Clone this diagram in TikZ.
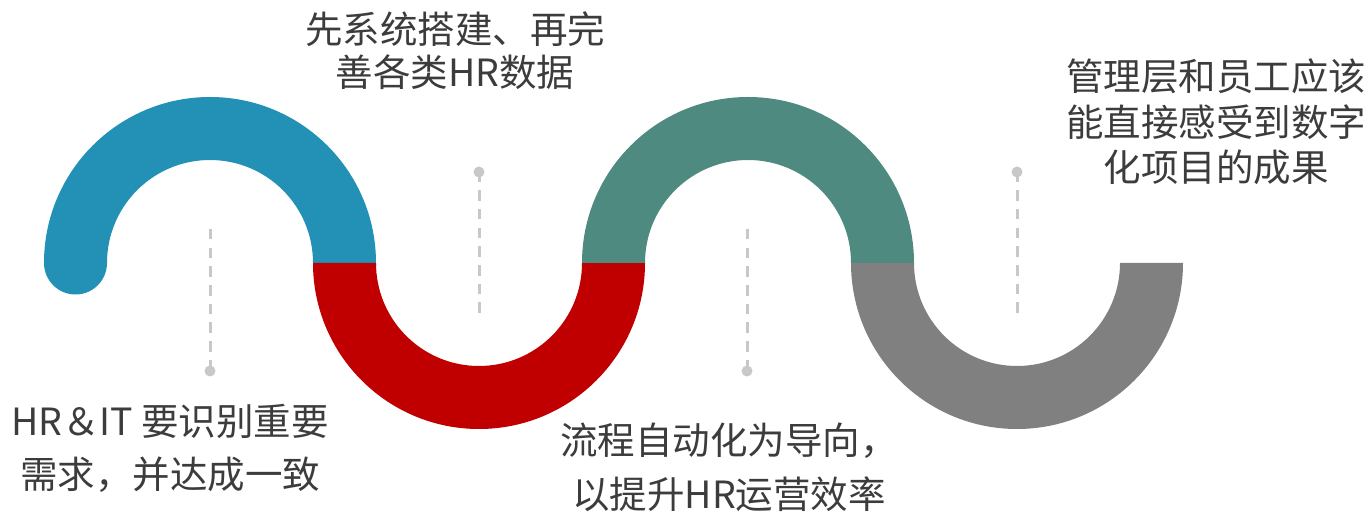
\documentclass[tikz,border=0pt]{standalone}
\usepackage{fontspec}
\newfontfamily\cjk{Noto Sans CJK SC}
\definecolor{cblue}{RGB}{35,145,181}
\definecolor{cred}{RGB}{192,0,0}
\definecolor{cteal}{RGB}{78,138,128}
\definecolor{cgray}{RGB}{128,128,128}
\definecolor{cdash}{RGB}{200,200,200}
\definecolor{ctext}{RGB}{60,60,60}
\begin{document}
\begin{tikzpicture}[x=1pt,y=1pt,
  guide/.style={draw=cdash, line width=3pt, dash pattern=on 10.5pt off 8.2pt},
  dotnode/.style={circle, fill=cdash, inner sep=0pt, minimum size=11pt},
  lbl/.style={text=ctext, align=center, inner sep=0pt}]
\useasboundingbox (0,0) rectangle (1370,513);
% wave segments
\fill[cblue] (44,250) arc[start angle=180,end angle=0,radius=166] -- (313,250) arc[start angle=0,end angle=180,radius=103] -- cycle;
\fill[cblue] (75.5,250) circle[radius=31.5];
\fill[cred] (313,250) arc[start angle=180,end angle=360,radius=166] -- (582,250) arc[start angle=0,end angle=-180,radius=103] -- cycle;
\fill[cteal] (582,250) arc[start angle=180,end angle=0,radius=166] -- (851,250) arc[start angle=0,end angle=180,radius=103] -- cycle;
\fill[cgray] (851,250) arc[start angle=180,end angle=360,radius=166] -- (1120,250) arc[start angle=0,end angle=-180,radius=103] -- cycle;
% guide lines
\node[dotnode] (d1) at (210,142) {};
\node[dotnode] (d2) at (479,341) {};
\node[dotnode] (d3) at (747,142) {};
\node[dotnode] (d4) at (1017,341) {};
\coordinate (g1) at (210,284);
\coordinate (g2) at (479,200);
\coordinate (g3) at (747,284);
\coordinate (g4) at (1017,200);
\draw[guide] (g1) -- (d1.center);
\draw[guide] (g2) -- (d2.center);
\draw[guide] (g3) -- (d3.center);
\draw[guide] (g4) -- (d4.center);
% labels
\node[lbl, font=\cjk\fontsize{37.5}{43}\selectfont] (t1) at (455,462.5) {先系统搭建、再完\\善各类HR数据};
\node[lbl, font=\cjk\fontsize{37.5}{45.5}\selectfont] (t2) at (1216,391) {管理层和员工应该\\能直接感受到数字\\化项目的成果};
\node[lbl, font=\cjk\fontsize{37.5}{53}\selectfont] (t3) at (170,64.5) {HR＆IT 要识别重要\\需求，并达成一致};
\node[lbl, font=\cjk\fontsize{37.5}{54}\selectfont] (t4) at (729,46) {流程自动化为导向，\\以提升HR运营效率};
\end{tikzpicture}
\end{document}
